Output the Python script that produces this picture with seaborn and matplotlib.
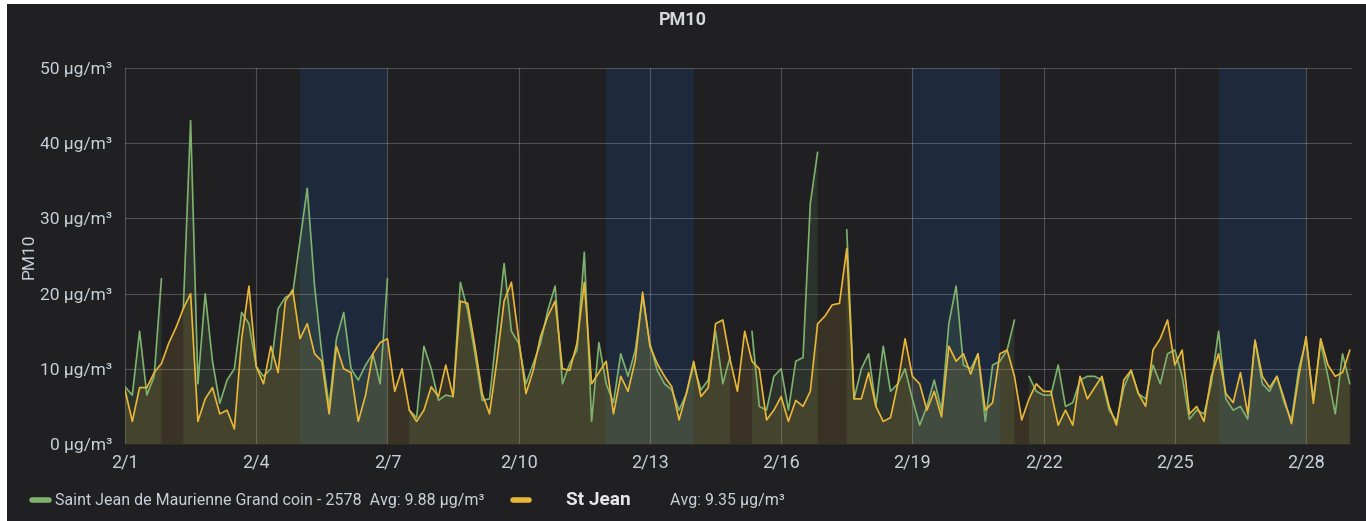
import numpy as np
import pandas as pd
import matplotlib.pyplot as plt
import seaborn as sns
from matplotlib.lines import Line2D
from matplotlib.patches import Rectangle

# PM10 readings, one sample every 4 hours from 2/1 00:00
grand_coin = [7.6, 6.5, 15, 6.5, 9, 22, np.nan, np.nan, 18, 43, 8, 20, 11, 5.4, 8.5, 10, 17.5, 16, 10.3, 9,
              10, 18, 19.5, 20, 27, 34, 21, 12, 5, 14, 17.5, 10, 8.5, 10.5, 12, 8, 22, np.nan, np.nan, 4.5,
              3.5, 13, 10, 5.8, 6.5, 6.3, 21.5, 17.8, 12, 5.8, 6, 15, 24, 15, 13.4, 8, 10.7, 13.4, 17.8, 21,
              8, 10.7, 12.5, 25.5, 3, 13.5, 8, 5.5, 12, 9, 12.5, 19.6, 13.4, 9.8, 8, 7.2, 4.5, 6.7, 10.5, 7.2,
              8.5, 15, 8, 11.6, np.nan, np.nan, 15, 5, 4.5, 9, 10, 4.5, 11, 11.5, 32, 38.8, np.nan, np.nan, np.nan, 28.5,
              6, 10, 12, 5, 13, 7, 8, 10, 6, 2.5, 5, 8.5, 4.5, 16, 21, 10.5, 10, 12, 3, 10.5,
              11, 12.5, 16.5, np.nan, 9, 7, 6.5, 6.5, 10.5, 5, 5.5, 8.5, 9, 9, 8.5, 4.5, 3, 7.5, 9.8, 6.7,
              6, 10.5, 8, 12, 12.5, 9, 3.3, 4.5, 4, 8, 15, 6, 4.5, 5, 3.3, 13.8, 8, 7, 9, 5.5,
              3.2, 10, 13.8, 6, 13.5, 9, 4, 12, 8]
st_jean = [7.2, 3, 7.5, 7.5, 9.5, 10.7, 13.4, 15.5, 18, 20, 3, 6, 7.5, 4, 4.5, 2, 14, 21, 10.3, 8,
           13, 9.5, 19, 20.5, 14, 16, 12, 11, 4, 13, 10, 9.5, 3, 6.5, 12, 13.5, 14, 7, 10, 4.5,
           3, 4.5, 7.6, 6.3, 10.5, 6.3, 19, 18.7, 13, 6.7, 4, 11, 19, 21.5, 14, 6.7, 9.8, 14.3, 17, 19,
           10, 9.8, 13.4, 21.5, 8, 9.5, 11, 4, 9, 7, 11.2, 20.2, 13, 10.7, 9, 7.6, 3.2, 6.7, 11, 6.3,
           7.5, 16, 16.5, 11.2, 7, 15, 11, 10, 3.2, 4.5, 6.3, 3, 5.8, 5, 7, 16, 17, 18.5, 18.7, 26,
           6, 6, 9.5, 5, 3, 3.5, 8, 14, 9, 8, 4.5, 7, 3.6, 13, 11, 12, 9.3, 12, 4.5, 5.5,
           12, 12.5, 9, 3.2, 6, 8, 7, 7, 2.5, 4.5, 2.5, 9, 6, 7.5, 9, 5, 2.5, 8.5, 9.8, 6.7,
           5, 12.5, 14, 16.5, 10.5, 12.5, 4, 5, 3, 9, 12, 6.7, 5.5, 9.5, 4, 13.8, 9, 7.5, 9, 6,
           2.7, 9, 14.3, 5.4, 14, 10.5, 9, 9.5, 12.5]

series_names = ['Saint Jean de Maurienne Grand coin - 2578', 'St Jean']
series_avgs = [9.88, 9.35]
series_colors = ['#7EB26D', '#EAB839']
weekend_starts = [4, 11, 18, 25]  # saturdays, days after 2/1
date_labels = ['2/1', '2/4', '2/7', '2/10', '2/13', '2/16', '2/19', '2/22', '2/25', '2/28']
y_values = [0, 10, 20, 30, 40, 50]

BG = '#202023'
TEXT = '#c7d0d9'

days = np.arange(len(st_jean)) / 6.0

# long table, with a segment id so gaps in the data stay gaps
frames = []
for name, vals in zip(series_names, [grand_coin, st_jean]):
    vals = np.asarray(vals, dtype=float)
    seg = np.cumsum(np.isnan(vals))
    d = pd.DataFrame({'day': days, 'value': vals, 'series': name, 'segment': seg})
    frames.append(d.dropna())
data = pd.concat(frames, ignore_index=True)

sns.set_theme(style='dark')
plt.rcParams['font.family'] = ['Roboto', 'DejaVu Sans']

fig = plt.figure(figsize=(13.66, 5.21), dpi=100, facecolor='white')
fig.add_artist(Rectangle((7 / 1366, 0), 1, 1 - 4 / 521, transform=fig.transFigure,
                         facecolor=BG, edgecolor='none', zorder=-10))
ax = fig.add_axes([125 / 1366, 1 - 444 / 521, (1352 - 125) / 1366, (444 - 68) / 521])
ax.set_facecolor(BG)

for start in weekend_starts:
    ax.axvspan(start, start + 2, color='#1e2a3b', lw=0, zorder=0)

for name, vals, col in zip(series_names, [grand_coin, st_jean], series_colors):
    ax.fill_between(days, np.asarray(vals, dtype=float), 0, color=col, alpha=0.13, lw=0, zorder=1)

sns.lineplot(data=data, x='day', y='value', hue='series', units='segment', estimator=None,
             palette=dict(zip(series_names, series_colors)), hue_order=series_names,
             linewidth=1.2, legend=False, sort=True, ax=ax, zorder=3)

ax.set_xlim(0, 28.05)
ax.set_ylim(0, 50)
tick_pos = [int(lbl.split('/')[1]) - 1 for lbl in date_labels]
ax.set_xticks(tick_pos)
ax.set_xticklabels(date_labels, color=TEXT, fontsize=13)
ax.set_yticks(y_values)
ax.set_yticklabels([f'{v} μg/m³' for v in y_values], color=TEXT, fontsize=12.5)
ax.tick_params(axis='y', length=0, pad=9)
ax.tick_params(axis='x', length=0, pad=7)
ax.grid(True, color='#ffffff', alpha=0.22, lw=0.8)
for s in ax.spines.values():
    s.set_visible(False)
ax.set_xlabel('')
ax.set_ylabel('PM10', color=TEXT, fontsize=12.5, labelpad=3)

fig.text(0.5, 1 - 20 / 521, 'PM10', ha='center', va='center', color='#d8d9da',
         fontsize=13, fontweight='bold')

# legend row
ly = 1 - 500 / 521
fig.add_artist(Line2D([32 / 1366, 49 / 1366], [ly, ly], color=series_colors[0], lw=4,
                      transform=fig.transFigure))
fig.text(55 / 1366, ly, f'{series_names[0]}  Avg: {series_avgs[0]:.2f} μg/m³',
         color=TEXT, fontsize=11.5, va='center')
fig.add_artist(Line2D([513 / 1366, 529 / 1366], [ly, ly], color=series_colors[1], lw=4,
                      transform=fig.transFigure))
fig.text(566 / 1366, ly, series_names[1], color='#e6e6e6', fontsize=13.8,
         fontweight='bold', va='center')
fig.text(670 / 1366, ly, f'Avg: {series_avgs[1]:.2f} μg/m³', color=TEXT, fontsize=11.5, va='center')

fig.savefig('out.png', dpi=100, facecolor=fig.get_facecolor())
